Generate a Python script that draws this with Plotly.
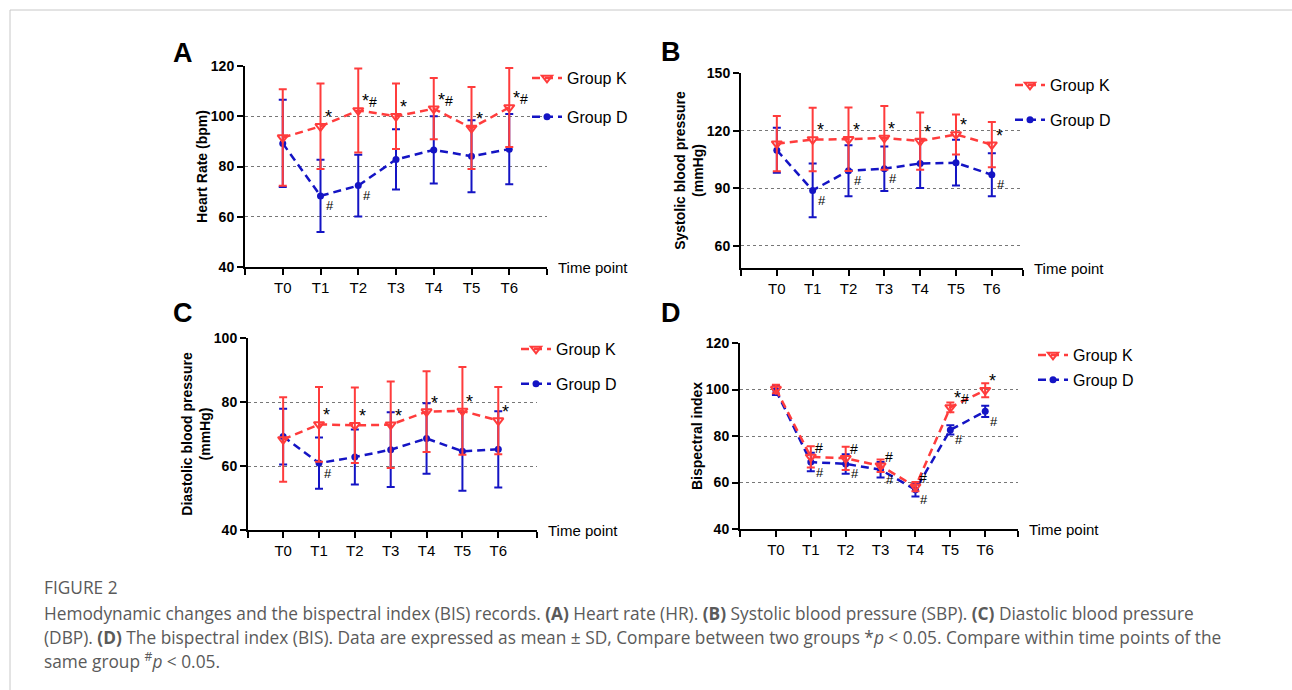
import plotly.graph_objects as go

W, H = 1292, 690

time_points = ["T0", "T1", "T2", "T3", "T4", "T5", "T6"]

# A - heart rate
hr_k_mean = [91.5, 96.0, 102.3, 100.0, 103.0, 95.3, 103.5]
hr_k_sd = [19.2, 17.0, 16.7, 13.0, 12.2, 16.3, 15.7]
hr_d_mean = [89.2, 68.3, 72.4, 82.8, 86.6, 84.1, 86.9]
hr_d_sd = [17.4, 14.4, 12.3, 12.0, 13.4, 14.3, 14.0]
hr_k_sig = ["", "*", "*#", "*", "*#", "*", "*#"]
hr_d_sig = ["", "#", "#", "", "", "", ""]

# B - systolic
sbp_k_mean = [113.2, 115.4, 115.5, 116.2, 114.6, 118.0, 112.7]
sbp_k_sd = [14.4, 16.5, 16.5, 16.6, 14.9, 10.4, 11.8]
sbp_d_mean = [109.8, 88.9, 99.1, 100.2, 102.9, 103.3, 97.0]
sbp_d_sd = [11.7, 14.0, 13.3, 11.6, 12.7, 11.9, 11.2]
sbp_k_sig = ["", "*", "*", "*", "*", "*", "*"]
sbp_d_sig = ["", "#", "#", "#", "", "", "#"]

# C - diastolic
dbp_k_mean = [68.3, 73.0, 72.7, 72.9, 77.0, 77.2, 74.2]
dbp_k_sd = [13.2, 11.7, 11.8, 13.5, 12.6, 13.7, 10.5]
dbp_d_mean = [69.2, 60.9, 62.8, 65.1, 68.6, 64.6, 65.2]
dbp_d_sd = [8.7, 8.0, 8.6, 11.7, 11.0, 12.3, 11.9]
dbp_k_sig = ["", "*", "*", "*", "*", "*", "*"]
dbp_d_sig = ["", "#", "", "", "", "", ""]

# D - bispectral index
bis_k_mean = [100.2, 71.0, 70.4, 67.2, 58.2, 92.3, 99.7]
bis_k_sd = [1.8, 4.6, 5.0, 2.7, 2.0, 2.1, 3.0]
bis_d_mean = [99.6, 68.8, 68.0, 65.5, 56.9, 82.6, 90.6]
bis_d_sd = [2.0, 4.0, 4.2, 3.3, 2.9, 2.0, 2.4]
bis_k_sig = ["", "#", "#", "#", "#", "*#", "*"]
bis_d_sig = ["", "#", "#", "#", "#", "#", "#"]

RED = "#FF3C3C"
BLUE = "#1414C4"
FONT = "Liberation Sans, Arial, sans-serif"

def px_x(p):
    return p / W

def px_y(p):
    return 1 - p / H

panels = [
    dict(letter="A", n="", km=hr_k_mean, ks=hr_k_sd, dm=hr_d_mean, ds=hr_d_sd,
         ksig=hr_k_sig, dsig=hr_d_sig, title="Heart Rate (bpm)",
         yr=[40, 120], yt=[40, 60, 80, 100, 120], xr=[-1, 7],
         xd=[245, 547], yd=[66, 267], lab=(183, 53), leg=(527, 61), gap=15),
    dict(letter="B", n="2", km=sbp_k_mean, ks=sbp_k_sd, dm=sbp_d_mean, ds=sbp_d_sd,
         ksig=sbp_k_sig, dsig=sbp_d_sig, title="Systolic blood pressure<br>(mmHg)",
         yr=[48.5, 150], yt=[60, 90, 120, 150], xr=[-1, 6.87],
         xd=[741, 1023], yd=[73, 268], lab=(671, 52), leg=(1010, 68), gap=11),
    dict(letter="C", n="3", km=dbp_k_mean, ks=dbp_k_sd, dm=dbp_d_mean, ds=dbp_d_sd,
         ksig=dbp_k_sig, dsig=dbp_d_sig, title="Diastolic blood pressure<br>(mmHg)",
         yr=[40, 100], yt=[40, 60, 80, 100], xr=[-0.98, 7.08],
         xd=[248, 537], yd=[338, 530], lab=(183, 313), leg=(516, 332), gap=11),
    dict(letter="D", n="4", km=bis_k_mean, ks=bis_k_sd, dm=bis_d_mean, ds=bis_d_sd,
         ksig=bis_k_sig, dsig=bis_d_sig, title="Bispectral index",
         yr=[40, 120], yt=[40, 60, 80, 100, 120], xr=[-1.03, 6.94],
         xd=[740, 1018], yd=[343, 529], lab=(671, 313), leg=(1033, 338), gap=1),
]

fig = go.Figure()
annotations = []
layout = {}

for p in panels:
    n = p["n"]
    xa, ya = "x" + n, "y" + n
    leg = "legend" + n
    xs = list(range(len(time_points)))
    grp = p["letter"]

    # group D first so the red series sits on top
    fig.add_trace(go.Scatter(
        x=xs, y=p["dm"], xaxis=xa, yaxis=ya, name="Group D", legend=leg,
        legendgroup=grp + "D", legendrank=2, mode="lines+markers",
        line=dict(color=BLUE, width=2.5, dash="8px,5px"),
        marker=dict(symbol="circle", size=7, color=BLUE),
        error_y=dict(type="data", array=p["ds"], color=BLUE, thickness=2, width=4),
    ))
    fig.add_trace(go.Scatter(
        x=xs, y=p["km"], xaxis=xa, yaxis=ya, name="Group K", legend=leg,
        legendgroup=grp + "K", legendrank=1, mode="lines+markers",
        line=dict(color=RED, width=2.5, dash="8px,5px"),
        marker=dict(symbol="triangle-down-open", size=9, color=RED, line=dict(width=2)),
        error_y=dict(type="data", array=p["ks"], color=RED, thickness=2, width=4),
    ))

    ticks = [p["xr"][0]] + xs + [p["xr"][1]]
    layout["xaxis" + n] = dict(
        domain=[px_x(p["xd"][0]), px_x(p["xd"][1])], range=p["xr"], anchor=ya,
        tickvals=ticks, ticktext=[" "] + time_points + [" "], automargin=False,
        showline=True, linecolor="black", linewidth=2, ticks="outside",
        ticklen=6, tickwidth=2, tickcolor="black", showgrid=False, zeroline=False,
        tickfont=dict(family=FONT, size=15, color="black"),
    )
    layout["yaxis" + n] = dict(
        domain=[px_y(p["yd"][1]), px_y(p["yd"][0])], range=p["yr"], anchor=xa,
        tickvals=p["yt"], showline=True, linecolor="black", linewidth=2,
        ticks="outside", ticklen=6, tickwidth=2, tickcolor="black", automargin=False,
        showgrid=True, gridcolor="#777777", gridwidth=1, griddash="dot",
        zeroline=False,
        tickfont=dict(family=FONT, size=14, color="black", weight="bold"),
        title=dict(text=p["title"], standoff=0,
                   font=dict(family=FONT, size=14, color="black", weight="bold")),
    )
    layout[leg] = dict(
        x=px_x(p["leg"][0]), y=px_y(p["leg"][1]), xanchor="left", yanchor="top",
        bgcolor="rgba(0,0,0,0)", tracegroupgap=p["gap"], itemwidth=30,
        font=dict(family=FONT, size=16, color="black"),
    )

    # panel letter
    annotations.append(dict(
        text="<b>" + p["letter"] + "</b>", x=px_x(p["lab"][0]), y=px_y(p["lab"][1]),
        xref="paper", yref="paper", showarrow=False, xanchor="center", yanchor="middle",
        font=dict(family=FONT, size=27, color="black"),
    ))
    # "Time point" label at end of x axis
    annotations.append(dict(
        text="Time point", x=1, y=0, xref=xa + " domain", yref=ya + " domain",
        xanchor="left", yanchor="middle", xshift=9, showarrow=False,
        font=dict(family=FONT, size=15, color="black"),
    ))
    # significance marks
    for i, s in enumerate(p["ksig"]):
        if s:
            annotations.append(dict(
                text=s.replace("#", "<span style='font-size:14px'>#</span>"),
                x=i, y=p["km"][i], xref=xa, yref=ya, showarrow=False,
                xanchor="left", yanchor="middle", xshift=2, yshift=9,
                font=dict(family=FONT, size=18, color="black"),
            ))
    for i, s in enumerate(p["dsig"]):
        if s:
            annotations.append(dict(
                text=s, x=i, y=p["dm"][i], xref=xa, yref=ya, showarrow=False,
                xanchor="left", yanchor="middle", xshift=3, yshift=-10,
                font=dict(family=FONT, size=13, color="black"),
            ))

# caption
CAP = "Open Sans, sans-serif"
cap_lines = [
    ("FIGURE 2", 587),
    ("Hemodynamic changes and the bispectral index (BIS) records. <b>(A)</b> Heart rate (HR). "
     "<b>(B)</b> Systolic blood pressure (SBP). <b>(C)</b> Diastolic blood pressure", 613),
    ("(DBP). <b>(D)</b> The bispectral index (BIS). Data are expressed as mean ± SD, "
     "Compare between two groups *<i>p</i> &lt; 0.05. Compare within time points of the", 637),
    ("same group <sup>#</sup><i>p</i> &lt; 0.05.", 660),
]
for txt, yy in cap_lines:
    annotations.append(dict(
        text=txt, x=px_x(42), y=px_y(yy), xref="paper", yref="paper", showarrow=False,
        xanchor="left", yanchor="middle",
        font=dict(family=CAP, size=17.3, color="#5a5a5a"),
    ))

fig.update_layout(
    width=W, height=H, margin=dict(l=0, r=0, t=0, b=0, autoexpand=False),
    paper_bgcolor="white", plot_bgcolor="white", showlegend=True,
    annotations=annotations,
    shapes=[dict(type="rect", xref="paper", yref="paper", x0=px_x(10), x1=1.05,
                 y0=-0.05, y1=px_y(10), line=dict(color="#c8c8c8", width=1))],
    **layout,
)

# pin the figure to the top-left corner, no page margin or scrollbars
fig.write_html(
    "out.html",
    config={"displayModeBar": False},
    post_script="document.documentElement.style.overflow='hidden';"
                "document.body.style.margin='0';document.body.style.overflow='hidden';"
                "var d=document.getElementById('{plot_id}');"
                "d.style.position='absolute';d.style.left='0px';d.style.top='0px';",
)
